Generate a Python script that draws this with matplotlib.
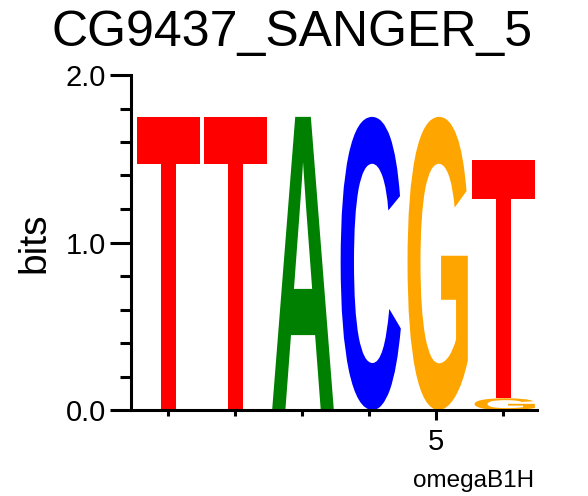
import matplotlib
matplotlib.use("Agg")
import matplotlib.pyplot as plt
from matplotlib.textpath import TextPath
from matplotlib.patches import PathPatch
from matplotlib.font_manager import FontProperties
from matplotlib.transforms import Affine2D
import numpy as np

# logo data: one list of (letter, bits) per position, bottom to top
positions = [1, 2, 3, 4, 5, 6]
letters = [["T"], ["T"], ["A"], ["C"], ["G"], ["G", "T"]]
heights = [[1.75], [1.75], [1.75], [1.75], [1.75], [0.07, 1.42]]

colors = {"A": "#008000", "C": "#0000ff", "G": "#ffa500", "T": "#ff0000"}
title = "CG9437_SANGER_5"
xlabel = "omegaB1H"

fp = FontProperties(family="Liberation Sans", weight="bold")


def draw_letter(ax, ch, x, y0, h, width=0.955):
    tp = TextPath((0, 0), ch, size=1, prop=fp)
    v = tp.vertices
    xmin, ymin = v.min(axis=0)
    xmax, ymax = v.max(axis=0)
    t = (Affine2D().translate(-xmin, -ymin)
         .scale(width / (xmax - xmin), h / (ymax - ymin))
         .translate(x - width / 2, y0))
    ax.add_patch(PathPatch(tp, transform=t + ax.transData,
                           facecolor=colors[ch], edgecolor="none"))


fig = plt.figure(figsize=(5.88, 4.96), dpi=100)
ax = fig.add_axes([131 / 588, 1 - 410 / 496, (537 - 131) / 588, (410 - 75) / 496])

for p, ls, hs in zip(positions, letters, heights):
    y = 0.0
    for ch, h in zip(ls, hs):
        draw_letter(ax, ch, p, y, h)
        y += h

ax.set_xlim(0.45, 6.51)
ax.set_ylim(0, 2.0)
for s in ["top", "right"]:
    ax.spines[s].set_visible(False)
for s in ["left", "bottom"]:
    ax.spines[s].set_linewidth(2.2)

ax.set_yticks([0, 1, 2])
ax.set_yticklabels(["0.0", "1.0", "2.0"])
ax.set_yticks(np.arange(0, 2.01, 0.2), minor=True)
ax.set_xticks([5])
ax.set_xticklabels(["5"])
ax.set_xticks([1, 2, 3, 4, 6], minor=True)

ax.tick_params(axis="y", which="major", length=15, width=2.2, pad=3,
               labelsize=21, labelfontfamily="Liberation Sans")
ax.tick_params(axis="y", which="minor", length=8, width=2.2)
ax.tick_params(axis="x", which="major", length=7, width=2.2, pad=6,
               labelsize=21, labelfontfamily="Liberation Sans")
ax.tick_params(axis="x", which="minor", length=4, width=2.2)

fig.text(292 / 588, 1 - 33 / 496, title, ha="center", va="center",
         fontsize=36, family="Liberation Sans")
fig.text(34.5 / 588, 1 - 243 / 496, "bits", ha="center", va="center",
         rotation=90, fontsize=28, family="Liberation Sans")
fig.text(474 / 588, 1 - 481 / 496, xlabel, ha="center", va="center",
         fontsize=17.5, family="Liberation Sans")

fig.savefig("out.png", dpi=100)
